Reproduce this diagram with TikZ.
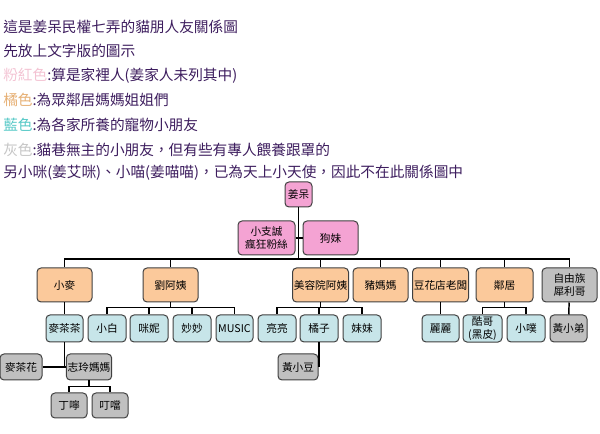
\documentclass[tikz,border=0pt]{standalone}
\usepackage{fontspec}
\setmainfont{Noto Sans CJK TC}
\usetikzlibrary{positioning}
\definecolor{rosa}{HTML}{F4A3D3}
\definecolor{orangebox}{HTML}{FBC99B}
\definecolor{blau}{HTML}{C7E5E9}
\definecolor{grau}{HTML}{C0C0C0}
\definecolor{lila}{HTML}{3D1D5E}
\definecolor{legrosa}{HTML}{F3C3D3}
\definecolor{legorange}{HTML}{E6B075}
\definecolor{legblau}{HTML}{55C8C6}
\definecolor{leggrau}{HTML}{C6C6C6}

\begin{document}
\begin{tikzpicture}[x=0.75pt, y=-0.75pt,
  box/.style={draw=black!75, line width=0.75pt, rounded corners=3pt, inner sep=1pt,
              align=center, font=\fontsize{8}{10}\selectfont},
  pinkbox/.style={box, fill=rosa},
  orgbox/.style={box, fill=orangebox, minimum width=55*0.75pt, minimum height=34*0.75pt},
  blubox/.style={box, fill=blau, minimum width=38*0.75pt, minimum height=27*0.75pt},
  grybox/.style={box, fill=grau, minimum width=38*0.75pt, minimum height=#1*0.75pt},
  grybox/.default=27,
  txt/.style={anchor=west, inner sep=0pt, text=lila, font=\fontsize{11}{13}\selectfont},
  con/.style={line width=1.1pt}]
\useasboundingbox (0,0) rectangle (600,434);

% Text oben
\node[txt] (t1) at (3,27) {這是姜呆民權七弄的貓朋人友關係圖};
\node[txt] (t2) at (3,51) {先放上文字版的圖示};
\node[txt] (t3) at (3,76) {{\color{legrosa}粉紅色}:算是家裡人(姜家人未列其中)};
\node[txt] (t4) at (3,100) {{\color{legorange}橘色}:為眾鄰居媽媽姐姐們};
\node[txt] (t5) at (3,125) {{\color{legblau}藍色}:為各家所養的寵物小朋友};
\node[txt] (t6) at (3,150) {{\color{leggrau}灰色}:貓巷無主的小朋友，但有些有專人餵養跟罩的};
\node[txt] (t7) at (3,173) {另小咪(姜艾咪)、小喵(姜喵喵)，已為天上小天使，因此不在此關係圖中};

% Familie
\node[pinkbox, minimum width=27*0.75pt, minimum height=25*0.75pt] (jiang) at (298.5,194.5) {姜呆};
\node[pinkbox, minimum width=57*0.75pt, minimum height=34*0.75pt] (fan) at (266.5,238) {小支誠\\瘋狂粉絲};
\node[pinkbox, minimum width=55*0.75pt, minimum height=34*0.75pt] (goumei) at (330.5,238) {狗妹};

% Nachbarn
\node[orgbox] (xiaomai) at (64.5,285) {小麥};
\node[orgbox] (liu) at (170.5,285) {劉阿姨};
\node[orgbox] (meirong) at (320.5,285) {美容院阿姨};
\node[orgbox] (zhu) at (380.5,285) {豬媽媽};
\node[orgbox] (douhua) at (440.5,285) {豆花店老闆};
\node[orgbox, minimum width=57*0.75pt] (linju) at (504.5,285) {鄰居};
\node[grybox=34, minimum width=55*0.75pt] (xili) at (569.5,285) {自由族\\犀利哥};

% Haustiere
\node[blubox, minimum width=37*0.75pt] (mcc) at (64.5,328.5) {麥茶茶};
\node[blubox] (xiaobai) at (107,328.5) {小白};
\node[blubox] (mini) at (149,328.5) {咪妮};
\node[blubox] (miaomiao) at (192,328.5) {妙妙};
\node[blubox, minimum width=37*0.75pt] (music) at (234.5,328.5) {MUSIC};
\node[blubox] (liang) at (277,328.5) {亮亮};
\node[blubox] (juzi) at (319,328.5) {橘子};
\node[blubox] (meimei) at (362,328.5) {妹妹};
\node[blubox, minimum width=37*0.75pt] (lili) at (440.5,328.5) {麗麗};
\node[blubox, minimum width=39*0.75pt] (kuge) at (482.5,328.5) {酷哥\\(黑皮)};
\node[blubox] (xiaopu) at (526,328.5) {小噗};
\node[grybox, minimum width=37*0.75pt] (huangxd) at (568.5,328.5) {黃小弟};

% Streuner
\node[grybox=26, minimum width=42*0.75pt] (mch) at (21,367) {麥茶花};
\node[grybox=26, minimum width=42*0.75pt] (zhiling) at (89,367) {志玲媽媽};
\node[grybox=26, minimum width=40*0.75pt] (hxdou) at (298,367) {黃小豆};
\node[grybox=25, minimum width=36*0.75pt] (dingning) at (69,405.5) {丁嚀};
\node[grybox=25, minimum width=36*0.75pt] (dingdang) at (110,405.5) {叮噹};

% Linien
\coordinate (bar) at (298.5,259);
\draw[con] (jiang.south) -- (bar);
\draw[con] (fan) -- (goumei);
\foreach \n in {xiaomai,liu,meirong,zhu,douhua,linju,xili}
  \draw[con] (bar) -| (\n.north);
\draw[con] (xiaomai) -- (mcc);
\foreach \c in {xiaobai,mini,miaomiao,music}
  \draw[con] (liu.south) -- ++(0,5) -| (\c.north);
\foreach \c in {liang,juzi,meimei}
  \draw[con] (meirong.south) -- ++(0,5) -| (\c.north);
\foreach \c in {kuge,xiaopu}
  \draw[con] (linju.south) -- ++(0,5) -| (\c.north);
\draw[con] (douhua) -- (lili);
\draw[con] (xili) -- (huangxd);
\draw[con] (mcc.south) -- (mcc.south |- zhiling.west);
\draw[con] (mch) -- (zhiling);
\foreach \c in {dingning,dingdang}
  \draw[con] (zhiling.south) -- ++(0,6) -| (\c.north);
\draw[con] (juzi.south) -- (juzi.south |- hxdou.east);
\end{tikzpicture}
\end{document}
